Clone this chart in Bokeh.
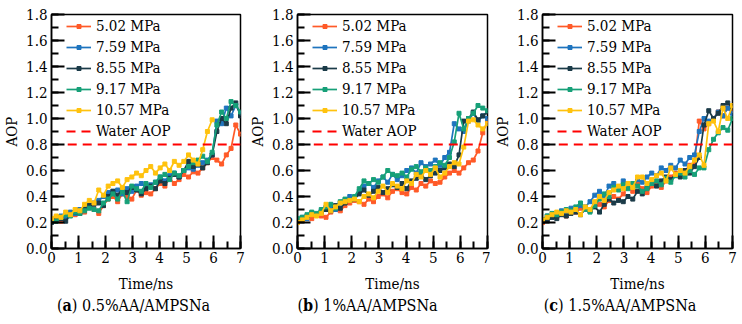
from bokeh.plotting import figure
from bokeh.models import (Range1d, SingleIntervalTicker, NumeralTickFormatter,
                          Legend, LegendItem, Div)
from bokeh.layouts import row, column
from bokeh.embed import file_html
from bokeh.resources import INLINE

TIME = [0.0, 0.175, 0.35, 0.525, 0.7, 0.875, 1.05, 1.225, 1.4, 1.575, 1.75,
        1.925, 2.1, 2.275, 2.45, 2.625, 2.8, 2.975, 3.15, 3.325, 3.5, 3.675,
        3.85, 4.025, 4.2, 4.375, 4.55, 4.725, 4.9, 5.075, 5.25, 5.425, 5.6,
        5.775, 5.95, 6.125, 6.3, 6.475, 6.65, 6.825, 7.0]

SERIES = ["5.02 MPa", "7.59 MPa", "8.55 MPa", "9.17 MPa", "10.57 MPa"]
WATER_T = [0.6, 7.0]
WATER_AOP = [0.8, 0.8]

# Panel (a) 0.5%AA/AMPSNa
A_502 = [0.22, 0.24, 0.21, 0.25, 0.27, 0.26, 0.30, 0.28, 0.32, 0.30, 0.27, 0.33, 0.38, 0.40, 0.36, 0.42, 0.40, 0.38, 0.45, 0.41,
         0.43, 0.42, 0.46, 0.50, 0.48, 0.54, 0.50, 0.53, 0.57, 0.55, 0.59, 0.58, 0.62, 0.66, 0.70, 0.68, 0.65, 0.72, 0.77, 0.95, 0.88]
A_759 = [0.21, 0.23, 0.25, 0.24, 0.28, 0.27, 0.30, 0.31, 0.33, 0.35, 0.37, 0.40, 0.43, 0.44, 0.45, 0.42, 0.46, 0.44, 0.48, 0.50,
         0.47, 0.49, 0.51, 0.55, 0.52, 0.56, 0.58, 0.55, 0.60, 0.62, 0.61, 0.64, 0.66, 0.68, 0.72, 0.98, 0.96, 1.08, 1.02, 1.10, 1.04]
A_855 = [0.20, 0.22, 0.23, 0.21, 0.26, 0.28, 0.27, 0.30, 0.33, 0.34, 0.35, 0.33, 0.40, 0.44, 0.41, 0.46, 0.43, 0.47, 0.45, 0.42,
         0.46, 0.48, 0.46, 0.52, 0.50, 0.54, 0.57, 0.55, 0.60, 0.67, 0.63, 0.65, 0.62, 0.66, 0.72, 0.90, 1.00, 0.96, 1.08, 1.12, 1.02]
A_917 = [0.22, 0.21, 0.24, 0.26, 0.25, 0.28, 0.27, 0.29, 0.31, 0.30, 0.29, 0.35, 0.38, 0.42, 0.38, 0.44, 0.36, 0.48, 0.46, 0.44,
         0.50, 0.47, 0.51, 0.55, 0.57, 0.53, 0.58, 0.56, 0.60, 0.63, 0.66, 0.68, 0.71, 0.67, 0.74, 0.95, 1.05, 1.00, 1.13, 1.10, 1.05]
A_1057 = [0.23, 0.25, 0.24, 0.28, 0.26, 0.30, 0.29, 0.34, 0.37, 0.35, 0.45, 0.41, 0.48, 0.50, 0.52, 0.47, 0.53, 0.55, 0.58, 0.56,
          0.60, 0.63, 0.58, 0.62, 0.65, 0.60, 0.67, 0.64, 0.67, 0.72, 0.68, 0.65, 0.76, 0.90, 0.99]

# Panel (b) 1%AA/AMPSNa
B_502 = [0.20, 0.22, 0.24, 0.23, 0.26, 0.25, 0.24, 0.28, 0.30, 0.29, 0.33, 0.35, 0.37, 0.36, 0.34, 0.38, 0.36, 0.40, 0.42, 0.39,
         0.44, 0.46, 0.43, 0.42, 0.47, 0.45, 0.50, 0.48, 0.52, 0.50, 0.51, 0.55, 0.58, 0.60, 0.58, 0.62, 0.66, 0.68, 0.75, 0.89, 0.98]
B_759 = [0.21, 0.24, 0.23, 0.27, 0.26, 0.29, 0.31, 0.33, 0.30, 0.35, 0.37, 0.40, 0.39, 0.44, 0.48, 0.50, 0.47, 0.52, 0.55, 0.51,
         0.57, 0.53, 0.56, 0.60, 0.62, 0.58, 0.66, 0.63, 0.65, 0.68, 0.64, 0.70, 0.74, 0.96, 0.92, 0.90, 0.98, 1.04, 0.98, 1.02, 1.00]
B_855 = [0.22, 0.23, 0.25, 0.27, 0.26, 0.28, 0.30, 0.29, 0.33, 0.31, 0.35, 0.37, 0.38, 0.42, 0.45, 0.41, 0.44, 0.47, 0.43, 0.46,
         0.49, 0.47, 0.50, 0.46, 0.52, 0.54, 0.57, 0.53, 0.56, 0.58, 0.60, 0.62, 0.65, 0.63, 0.72, 0.98, 1.00, 1.05, 0.99, 1.02, 1.05]
B_917 = [0.23, 0.24, 0.26, 0.28, 0.27, 0.30, 0.32, 0.34, 0.31, 0.36, 0.38, 0.37, 0.40, 0.46, 0.52, 0.50, 0.53, 0.51, 0.55, 0.60,
         0.57, 0.56, 0.58, 0.55, 0.61, 0.63, 0.59, 0.62, 0.60, 0.63, 0.66, 0.64, 0.70, 0.82, 1.04, 0.92, 1.00, 1.04, 1.10, 1.08, 1.06]
B_1057 = [0.20, 0.22, 0.24, 0.26, 0.25, 0.27, 0.34, 0.29, 0.32, 0.35, 0.36, 0.37, 0.38, 0.36, 0.40, 0.42, 0.39, 0.44, 0.48, 0.43,
          0.50, 0.48, 0.46, 0.52, 0.50, 0.57, 0.55, 0.60, 0.57, 0.62, 0.55, 0.58, 0.63, 0.66, 0.65, 0.78, 0.98, 0.99, 0.95, 0.92, 0.96]

# Panel (c) 1.5%AA/AMPSNa
C_502 = [0.20, 0.23, 0.25, 0.24, 0.27, 0.25, 0.29, 0.28, 0.31, 0.30, 0.29, 0.33, 0.34, 0.32, 0.37, 0.40, 0.38, 0.42, 0.48, 0.44,
         0.50, 0.46, 0.43, 0.48, 0.50, 0.47, 0.52, 0.55, 0.58, 0.56, 0.60, 0.64, 0.66, 0.98, 0.92, 0.96, 1.00, 1.05, 1.02, 1.08, 1.06]
C_759 = [0.22, 0.25, 0.24, 0.27, 0.29, 0.28, 0.31, 0.30, 0.33, 0.32, 0.36, 0.41, 0.44, 0.40, 0.48, 0.50, 0.46, 0.52, 0.50, 0.48,
         0.53, 0.51, 0.55, 0.58, 0.56, 0.62, 0.60, 0.64, 0.62, 0.68, 0.65, 0.70, 0.72, 0.90, 1.00, 0.98, 1.00, 1.05, 1.02, 1.08, 1.04]
C_855 = [0.21, 0.22, 0.24, 0.23, 0.26, 0.25, 0.27, 0.28, 0.26, 0.30, 0.29, 0.32, 0.28, 0.34, 0.38, 0.35, 0.37, 0.36, 0.40, 0.38,
         0.44, 0.42, 0.47, 0.50, 0.48, 0.52, 0.55, 0.53, 0.57, 0.55, 0.60, 0.58, 0.63, 0.70, 0.95, 1.06, 1.00, 1.04, 1.10, 1.12, 1.08]
C_917 = [0.22, 0.25, 0.27, 0.26, 0.28, 0.30, 0.29, 0.32, 0.35, 0.30, 0.28, 0.33, 0.38, 0.42, 0.40, 0.47, 0.45, 0.49, 0.46, 0.50,
         0.48, 0.44, 0.46, 0.50, 0.52, 0.49, 0.54, 0.51, 0.56, 0.58, 0.55, 0.60, 0.57, 0.62, 0.62, 0.76, 0.84, 0.89, 0.93, 0.91, 1.00]
C_1057 = [0.22, 0.24, 0.26, 0.28, 0.27, 0.29, 0.28, 0.30, 0.26, 0.32, 0.30, 0.36, 0.40, 0.37, 0.43, 0.45, 0.48, 0.46, 0.50, 0.47,
          0.55, 0.55, 0.50, 0.53, 0.56, 0.58, 0.52, 0.62, 0.57, 0.60, 0.58, 0.63, 0.68, 0.72, 0.64, 0.96, 0.98, 0.90, 1.08, 1.00, 1.10]

PANELS = [
    ("a", "0.5%AA/AMPSNa", [A_502, A_759, A_855, A_917, A_1057]),
    ("b", "1%AA/AMPSNa", [B_502, B_759, B_855, B_917, B_1057]),
    ("c", "1.5%AA/AMPSNa", [C_502, C_759, C_855, C_917, C_1057]),
]

COLORS = ["#FF5A28", "#1E74BE", "#1B3B48", "#17A078", "#FFC20E"]
FONT = "DejaVu Serif Condensed"
FSIZE = "15px"


def make_fig(values, width, left, right):
    p = figure(width=width, height=296, x_range=Range1d(0, 7), y_range=Range1d(0, 1.8),
               output_backend="svg", toolbar_location=None,
               min_border_left=left, min_border_right=right,
               min_border_top=14, min_border_bottom=48)
    p.grid.visible = False
    p.outline_line_color = "black"
    p.outline_line_width = 1.5
    p.outline_line_alpha = 1.0
    p.background_fill_color = "white"

    p.xaxis.ticker = SingleIntervalTicker(interval=1, num_minor_ticks=2)
    p.yaxis.ticker = SingleIntervalTicker(interval=0.2, num_minor_ticks=2)
    p.yaxis.formatter = NumeralTickFormatter(format="0.0")
    p.xaxis.axis_label = "Time/ns"
    p.yaxis.axis_label = "AOP"
    for ax in (p.xaxis, p.yaxis):
        ax.axis_line_color = "black"
        ax.axis_line_width = 1.5
        ax.major_tick_in = 13
        ax.major_tick_out = 0
        ax.minor_tick_in = 7
        ax.minor_tick_out = 0
        ax.major_tick_line_width = 2
        ax.minor_tick_line_width = 2
        ax.major_tick_line_color = "black"
        ax.minor_tick_line_color = "black"
        ax.major_label_text_font = FONT
        ax.major_label_text_font_size = FSIZE
        ax.major_label_text_color = "black"
        ax.axis_label_text_font = FONT
        ax.axis_label_text_font_size = FSIZE
        ax.axis_label_text_font_style = "normal"
        ax.axis_label_text_color = "black"
    p.xaxis.major_label_standoff = 3
    p.xaxis.axis_label_standoff = 9
    p.yaxis.major_label_standoff = 4
    p.yaxis.axis_label_standoff = 2

    items = []
    for name, vals, col in zip(SERIES, values, COLORS):
        t = TIME[:len(vals)]
        r1 = p.line(t, vals, line_color=col, line_width=1.7)
        r2 = p.scatter(t, vals, marker="square", size=4, fill_color=col, line_color=col)
        items.append(LegendItem(label=name, renderers=[r1, r2]))
    rw = p.line(WATER_T, WATER_AOP, line_color="#FF0000", line_width=2, line_dash="9 6")
    items.append(LegendItem(label="Water AOP", renderers=[rw]))

    leg = Legend(items=items, location=(15, 108), margin=0, padding=0,
                 spacing=3, glyph_width=25, glyph_height=10, label_height=10,
                 label_standoff=5, label_text_font=FONT, label_text_font_size=FSIZE,
                 label_text_color="black", background_fill_alpha=0, border_line_alpha=0)
    p.add_layout(leg, "center")
    return p


dims = [(245, 50, 5, 22), (245, 52, 3, 0), (252, 52, 10, 8)]
figs = []
caps = []
for (letter, name, values), (w, l, r, shift) in zip(PANELS, dims):
    figs.append(make_fig(values, w, l, r))
    caps.append(Div(text=f'<div style="box-sizing:border-box;width:{w}px;text-align:center;'
                         f'padding-left:{shift}px;'
                         f'font-family:\'DejaVu Serif Condensed\';font-size:16px;font-weight:normal;color:black;'
                         f'line-height:20px;">(<b>{letter}</b>) {name}</div>',
                    width=w, height=28, margin=0))

layout = column(row(*figs, spacing=0), row(*caps, spacing=0), spacing=0)
open("out.html", "w").write(file_html(layout, INLINE))
